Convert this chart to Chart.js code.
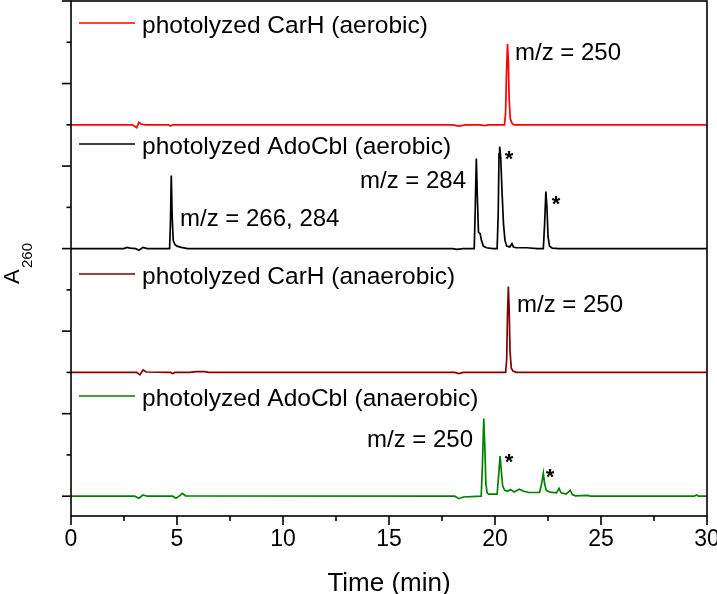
<!DOCTYPE html>
<html>
<head>
<meta charset="utf-8">
<script src="https://cdn.jsdelivr.net/npm/chart.js@4.4.0/dist/chart.umd.min.js"></script>
<style>
  html, body { margin: 0; padding: 0; background: #ffffff; }
  #wrap { width: 717px; height: 594px; }
</style>
</head>
<body>
<div id="wrap"><canvas id="c" width="717" height="594"></canvas></div>
<script>
// ---- Data (time in min, A260 relative to each trace's baseline) ----
const carhAerobicT = [0, 2.9, 3.1, 3.2, 3.3, 3.5, 4.6, 4.7, 4.8, 18.0, 18.3, 18.6, 19.3, 19.5, 19.7, 20.45, 20.5, 20.54, 20.59, 20.63, 20.67, 20.72, 20.8, 20.9, 30];
const carhAerobicA = [0, 0, -0.07, 0.06, 0.02, 0, 0, -0.03, 0, 0, -0.03, 0, 0, -0.02, 0, 0, 0.3, 1.2, 1.96, 1.5, 0.6, 0.15, 0.04, 0, 0];

const adoAerobicT = [0, 2.5, 2.64, 2.8, 3.05, 3.2, 3.4, 3.6, 4.65, 4.69, 4.73, 4.77, 4.82, 4.9, 5.0, 5.2, 5.5, 18.0, 18.2, 18.5, 19.02, 19.06, 19.12, 19.17, 19.22, 19.3, 19.36, 19.45, 19.6, 19.9, 20.1, 20.15, 20.19, 20.22, 20.27, 20.33, 20.4, 20.47, 20.55, 20.7, 20.8, 20.87, 21.0, 21.5, 22.0, 22.28, 22.34, 22.4, 22.45, 22.5, 22.57, 22.7, 23.0, 30];
const adoAerobicA = [0, 0, 0.03, 0.01, 0, -0.04, 0.03, 0, 0, 0.6, 1.77, 0.8, 0.2, 0.1, 0.06, 0.03, 0, 0, -0.02, 0, 0, 0.8, 2.18, 1.2, 0.4, 0.36, 0.2, 0.06, 0.02, 0, 0, 0.8, 2.3, 2.47, 2.2, 1.4, 0.6, 0.2, 0.06, 0.04, 0.12, 0.04, 0.02, 0.02, 0, 0, 0.6, 1.38, 1.0, 0.3, 0.06, 0.01, 0, 0];

const carhAnaerobicT = [0, 3.1, 3.25, 3.4, 3.55, 4.7, 4.8, 4.9, 5.6, 5.9, 6.3, 6.5, 18.1, 18.3, 18.5, 20.5, 20.55, 20.59, 20.63, 20.67, 20.71, 20.77, 20.85, 21.0, 30];
const carhAnaerobicA = [0, 0, -0.06, 0.06, 0.01, 0, -0.03, 0, 0, 0.02, 0.02, 0, 0, -0.03, 0, 0, 0.3, 1.4, 2.08, 1.5, 0.5, 0.1, 0.03, 0, 0];

const adoAnaerobicT = [0, 3.0, 3.2, 3.4, 3.6, 4.8, 4.95, 5.1, 5.25, 5.4, 18.1, 18.3, 18.5, 19.35, 19.41, 19.47, 19.52, 19.57, 19.63, 19.7, 20.1, 20.17, 20.24, 20.3, 20.36, 20.45, 20.6, 20.73, 20.9, 21.15, 21.35, 21.6, 22.1, 22.2, 22.28, 22.34, 22.42, 22.6, 22.9, 23.02, 23.12, 23.35, 23.55, 23.65, 23.8, 24.4, 24.5, 29.4, 29.5, 29.6, 30];
const adoAnaerobicA = [0, 0, -0.05, 0.03, 0, 0, -0.05, 0, 0.07, 0.01, 0, -0.06, -0.02, 0, 0.8, 1.88, 1.2, 0.3, 0.08, 0.05, 0.05, 0.5, 0.97, 0.6, 0.25, 0.15, 0.12, 0.16, 0.1, 0.17, 0.12, 0.09, 0.09, 0.3, 0.56, 0.3, 0.14, 0.1, 0.08, 0.19, 0.08, 0.05, 0.14, 0.04, 0.01, 0.02, 0, 0, 0.03, 0, 0];

const seriesNames = ['photolyzed CarH (aerobic)', 'photolyzed AdoCbl (aerobic)', 'photolyzed CarH (anaerobic)', 'photolyzed AdoCbl (anaerobic)'];
const seriesColors = ['#ff0000', '#000000', '#800000', '#008000'];
const panelOffset = [9, 6, 3, 0];
const xTickLabels = ['0', '5', '10', '15', '20', '25', '30'];

const seriesT = [carhAerobicT, adoAerobicT, carhAnaerobicT, adoAnaerobicT];
const seriesA = [carhAerobicA, adoAerobicA, carhAnaerobicA, adoAnaerobicA];

// annotations: [text, x(left, px), baseline(px)]
const peakLabels = [
  ['m/z = 250', 515, 60],
  ['m/z = 266, 284', 180, 226],
  ['m/z = 284', 360, 188],
  ['m/z = 250', 517, 312],
  ['m/z = 250', 367, 447]
];
const starMarks = [[509, 154], [556, 199], [509, 457], [550, 472]];
const legendRows = [23, 144, 274, 396];

const datasets = seriesT.map((ts, i) => ({
  label: seriesNames[i],
  data: ts.map((t, j) => ({ x: t, y: seriesA[i][j] + panelOffset[i] })),
  borderColor: seriesColors[i],
  backgroundColor: seriesColors[i],
  borderWidth: 1.7,
  pointRadius: 0,
  tension: 0,
  fill: false
}));

const BASE_FONT = '"Liberation Sans", Arial, sans-serif';

const framePlugin = {
  id: 'frame',
  afterDraw(chart) {
    const ctx = chart.ctx;
    const a = chart.chartArea;
    const xs = chart.scales.x, ys = chart.scales.y;
    ctx.save();
    ctx.strokeStyle = '#000';
    ctx.lineWidth = 1.6;
    ctx.strokeRect(a.left, a.top, a.right - a.left, a.bottom - a.top);
    // y ticks
    for (let v = 0; v <= 12; v++) {
      const py = ys.getPixelForValue(v);
      const len = (v % 2 === 0) ? 9 : 4.5;
      ctx.beginPath();
      ctx.moveTo(a.left - len, py);
      ctx.lineTo(a.left, py);
      ctx.stroke();
    }
    // x ticks
    for (let k = 0; k <= 12; k++) {
      const v = k * 2.5;
      const px = xs.getPixelForValue(v);
      const len = (k % 2 === 0) ? 9 : 5;
      ctx.beginPath();
      ctx.moveTo(px, a.bottom);
      ctx.lineTo(px, a.bottom + len);
      ctx.stroke();
    }
    // y title A260
    ctx.fillStyle = '#000';
    ctx.translate(19, 284);
    ctx.rotate(-Math.PI / 2);
    ctx.textBaseline = 'alphabetic';
    ctx.textAlign = 'left';
    ctx.font = '22px ' + BASE_FONT;
    ctx.fillText('A', 0, 0);
    ctx.font = '15px ' + BASE_FONT;
    ctx.fillText('260', 16, 13);
    ctx.restore();

    // legends and annotations
    ctx.save();
    ctx.textBaseline = 'alphabetic';
    ctx.textAlign = 'left';
    ctx.font = '24.5px ' + BASE_FONT;
    legendRows.forEach((y, i) => {
      ctx.strokeStyle = seriesColors[i];
      ctx.lineWidth = 1.7;
      ctx.beginPath();
      ctx.moveTo(79, y);
      ctx.lineTo(135, y);
      ctx.stroke();
      ctx.fillStyle = '#000';
      ctx.fillText(seriesNames[i], 142, y + 10);
    });
    ctx.font = '24px ' + BASE_FONT;
    peakLabels.forEach(([t, x, y]) => ctx.fillText(t, x, y));
    ctx.font = 'bold 22px ' + BASE_FONT;
    ctx.textAlign = 'center';
    starMarks.forEach(([x, y]) => ctx.fillText('*', x, y + 12));
    ctx.restore();
  }
};

new Chart(document.getElementById('c'), {
  type: 'line',
  data: { datasets },
  options: {
    responsive: false,
    animation: false,
    devicePixelRatio: 1,
    layout: { padding: { left: 0, right: 10, top: 1, bottom: 0 } },
    plugins: { legend: { display: false }, tooltip: { enabled: false } },
    scales: {
      x: {
        type: 'linear',
        min: 0,
        max: 30,
        grid: { display: false, drawTicks: false },
        border: { display: false },
        ticks: {
          stepSize: 5,
          color: '#000',
          padding: 10,
          maxRotation: 0,
          font: { family: BASE_FONT, size: 23 },
          callback: (v) => xTickLabels[Math.round(v / 5)] ?? ''
        },
        title: {
          display: true,
          text: 'Time (min)',
          color: '#000',
          font: { family: BASE_FONT, size: 26, lineHeight: 0.8 },
          padding: { top: 0, bottom: 0 }
        },
        afterFit: (s) => { s.height = 78; s.paddingLeft = 0; s.paddingRight = 0; }
      },
      y: {
        type: 'linear',
        min: -0.48,
        max: 12,
        grid: { display: false, drawTicks: false },
        border: { display: false },
        ticks: { display: false },
        afterFit: (s) => { s.width = 71; s.paddingTop = 0; s.paddingBottom = 0; }
      }
    }
  },
  plugins: [framePlugin]
});
</script>
</body>
</html>
